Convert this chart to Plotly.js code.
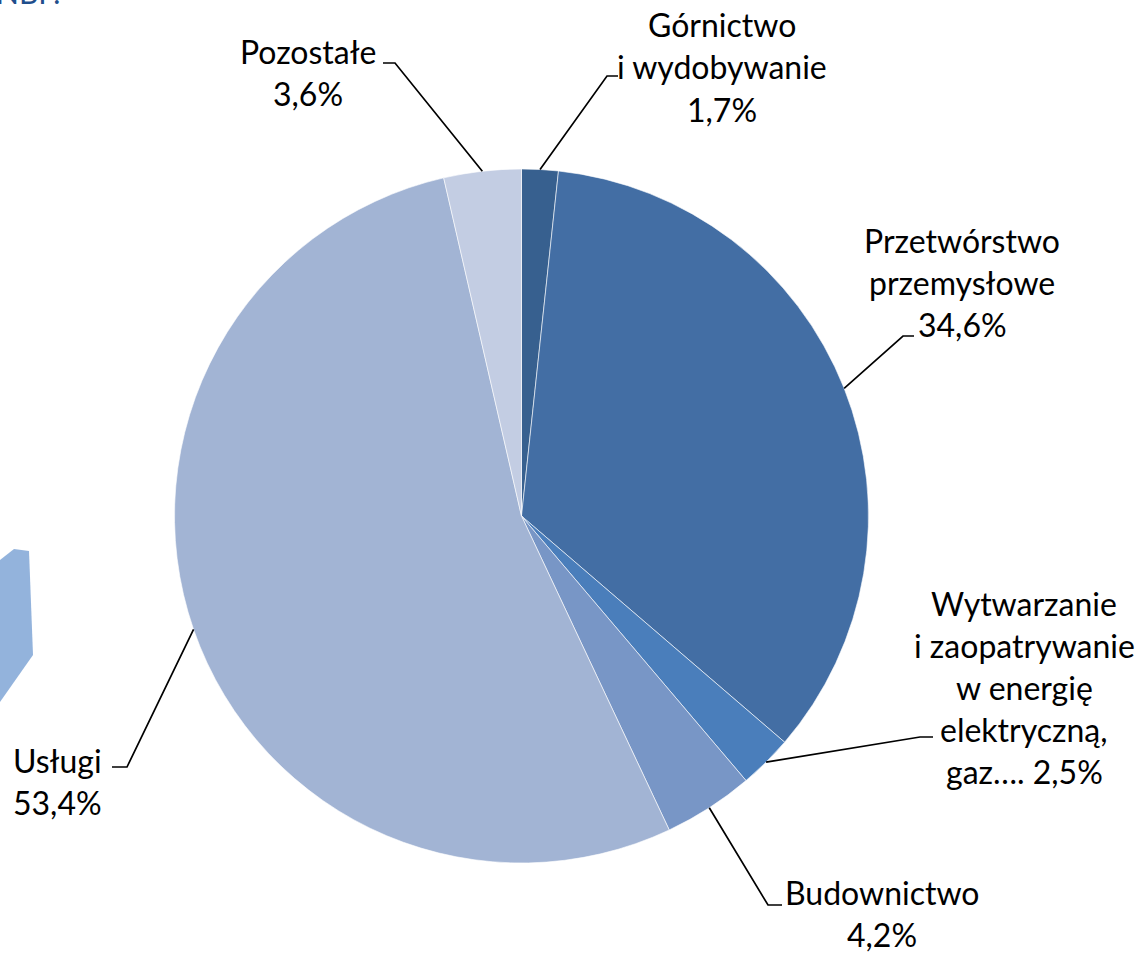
<!DOCTYPE html>
<html><head><meta charset="utf-8">
<script src="https://cdn.plot.ly/plotly-3.0.1.min.js"></script>
<style>html,body{margin:0;padding:0;background:#fff}#chart{width:1141px;height:955px}</style>
</head><body><div id="chart"></div>
<script>
// ---- data ----
const categories = ['Górnictwo i wydobywanie','Przetwórstwo przemysłowe','Wytwarzanie i zaopatrywanie w energię elektryczną, gaz…','Budownictwo','Usługi','Pozostałe'];
const values = [1.7, 34.6, 2.5, 4.2, 53.4, 3.6];
const labelLines = [
  ['Górnictwo','i wydobywanie','1,7%'],
  ['Przetwórstwo','przemysłowe','34,6%'],
  ['Wytwarzanie','i zaopatrywanie','w energię','elektryczną,','gaz…. 2,5%'],
  ['Budownictwo','4,2%'],
  ['Usługi','53,4%'],
  ['Pozostałe','3,6%']
];
const colors = ['#37608F','#436EA4','#4A7EBB','#7896C6','#A2B4D4','#C3CDE3'];

// ---- layout constants (pixels) ----
const W = 1141, H = 955;
const CX = 521.5, CY = 516, R = 347;
const FS = 32, LH = 42;
// label centre x, first line centre y, elbow point, end of horizontal tick
const labelPos = [
  {x:722, y:25,  elbow:[607,76],  end:[618,76]},
  {x:962, y:240, elbow:[903,336], end:[914,336]},
  {x:1024,y:603, elbow:[920,737], end:[933,737]},
  {x:882, y:892, elbow:[768,905], end:[782,905]},
  {x:57,  y:760, elbow:[127,767], end:[112,767]},
  {x:308, y:52,  elbow:[395,63],  end:[383,63]}
];

const px = x => x / W, py = y => 1 - y / H;

const trace = {
  type:'pie', labels:categories, values:values, sort:false, direction:'clockwise', rotation:0,
  marker:{colors:colors, line:{color:'#ffffff', width:0.6}},
  textinfo:'none', hoverinfo:'label+percent',
  domain:{x:[px(CX-R), px(CX+R)], y:[py(CY+R), py(CY-R)]}
};

const total = values.reduce((a,b)=>a+b,0);
const shapes = [], annotations = [];
// faint background decoration on the left
shapes.push({type:'path', xref:'paper', yref:'paper', layer:'below',
  path:`M ${px(0)},${py(560)} L ${px(14)},${py(549)} L ${px(29)},${py(551)} L ${px(33)},${py(655)} L ${px(0)},${py(702)} Z`,
  fillcolor:'rgba(128,166,214,0.85)', line:{width:0}});

let cum = 0;
values.forEach((v,i)=>{
  const mid = (cum + v/2) / total * 2*Math.PI; cum += v;
  const sx = CX + R*Math.sin(mid), sy = CY - R*Math.cos(mid);
  const p = labelPos[i];
  shapes.push({type:'path', xref:'paper', yref:'paper',
    path:`M ${px(sx)},${py(sy)} L ${px(p.elbow[0])},${py(p.elbow[1])} L ${px(p.end[0])},${py(p.end[1])}`,
    line:{color:'#000', width:1.7}});
  labelLines[i].forEach((t,k)=>{
    annotations.push({xref:'paper', yref:'paper', x:px(p.x), y:py(p.y + k*LH), xanchor:'center', yanchor:'middle',
      text:t, showarrow:false, font:{family:'Lato, sans-serif', size:FS, color:'#000'}});
  });
});
annotations.push({xref:'paper', yref:'paper', x:px(-6), y:1, xanchor:'left', yanchor:'bottom', yshift:-12,
  text:'NBP.', showarrow:false, font:{family:'Lato, sans-serif', size:30, color:'#1F4E8C'}});

Plotly.newPlot('chart', [trace], {
  width:W, height:H, margin:{l:0,r:0,t:0,b:0}, showlegend:false,
  paper_bgcolor:'#fff', plot_bgcolor:'#fff', shapes:shapes, annotations:annotations
}, {displayModeBar:false});
</script></body></html>
